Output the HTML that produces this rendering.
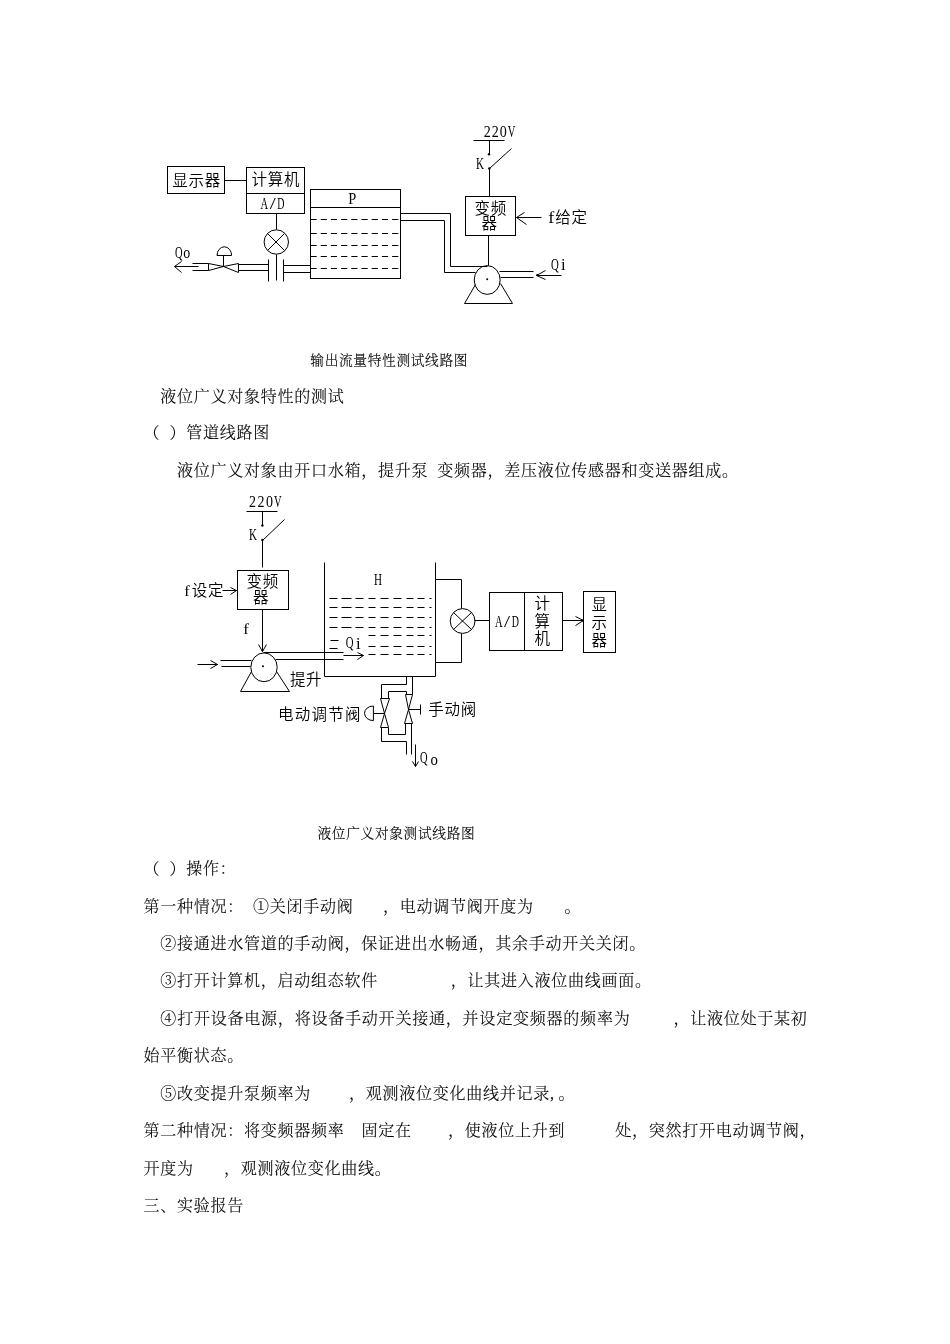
<!DOCTYPE html>
<html lang="zh-CN">
<head>
<meta charset="utf-8">
<title>液位广义对象特性的测试</title>
<style>
html,body{margin:0;padding:0;background:#fff;}
body{width:950px;height:1344px;position:relative;overflow:hidden;font-family:"Liberation Serif","Noto Serif CJK SC",serif;color:#000;}
.t{position:absolute;white-space:nowrap;line-height:24px;font-weight:300;word-spacing:4.2px;-webkit-text-stroke:0.12px #000;}
svg{position:absolute;left:0;top:0;transform:translateZ(0);}
svg text{font-family:"Liberation Serif","Noto Sans CJK SC",sans-serif;font-weight:350;fill:#000;}
</style>
</head>
<body>
<svg width="950" height="1344" viewBox="0 0 950 1344" fill="none" stroke="#000" stroke-width="1" stroke-linecap="butt" stroke-linejoin="miter">
<rect x="167.5" y="166.5" width="57.00" height="27.00"/>
<text x="172.3" y="186.3" font-size="15.5" stroke="none" letter-spacing="0.7">显示器</text>
<line x1="224.5" y1="180.5" x2="246.5" y2="180.5" />
<rect x="246.5" y="167.5" width="58.00" height="46.00"/>
<line x1="246.5" y1="193.5" x2="304.5" y2="193.5" />
<text x="251.6" y="185.2" font-size="15.5" stroke="none" letter-spacing="0.7">计算机</text>
<text x="260.55" y="209.3" font-size="16" stroke="none" textLength="7.6" lengthAdjust="spacingAndGlyphs" class="lat">A</text>
<text x="269.65" y="209.3" font-size="16" stroke="none" textLength="6.0" lengthAdjust="spacingAndGlyphs" class="lat">/</text>
<text x="277.35" y="209.3" font-size="16" stroke="none" textLength="7.2" lengthAdjust="spacingAndGlyphs" class="lat">D</text>
<line x1="276.5" y1="213.5" x2="276.5" y2="229.5" />
<circle cx="276.3" cy="242" r="12.2" />
<line x1="267.5" y1="233.5" x2="284.5" y2="250.5" />
<line x1="284.5" y1="233.5" x2="267.5" y2="250.5" />
<line x1="276.5" y1="254.5" x2="276.5" y2="280.5" />
<line x1="268.5" y1="259.5" x2="268.5" y2="281.5" />
<line x1="283.5" y1="259.5" x2="283.5" y2="281.5" />
<line x1="283.5" y1="265.5" x2="310.5" y2="265.5" />
<line x1="283.5" y1="272.5" x2="310.5" y2="272.5" />
<line x1="238.5" y1="264.5" x2="268.5" y2="264.5" />
<line x1="238.5" y1="270.5" x2="268.5" y2="270.5" />
<polygon points="208.5,263.5 208.5,270.5 223.5,266.5" />
<polygon points="238.5,263.5 238.5,272.5 223.5,266.5" />
<line x1="223.5" y1="266.5" x2="223.5" y2="255.5" />
<path d="M217,255.5 A7.3,8.7 0 0 1 231.6,255.5 Z" />
<line x1="192.5" y1="263.5" x2="208.5" y2="263.5" />
<line x1="192.5" y1="270.5" x2="208.5" y2="270.5" />
<line x1="174.5" y1="266.5" x2="198.5" y2="266.5" />
<polyline points="181.5,261.5 174.5,266.5 181.5,272.5" />
<text x="175.0" y="257.6" font-size="16" stroke="none" textLength="7.6" lengthAdjust="spacingAndGlyphs" class="lat">Q</text>
<text x="183.3" y="257.6" font-size="16" stroke="none" textLength="7.0" lengthAdjust="spacingAndGlyphs" class="lat">o</text>
<rect x="310.5" y="189.5" width="90.00" height="89.00"/>
<line x1="310.5" y1="207.5" x2="400.5" y2="207.5" />
<text x="348.3" y="204.3" font-size="16" stroke="none" textLength="8" lengthAdjust="spacingAndGlyphs" class="lat">P</text>
<line x1="310.5" y1="219.5" x2="399.5" y2="219.5" stroke-dasharray="6.2 4"/>
<line x1="310.5" y1="233.5" x2="399.5" y2="233.5" stroke-dasharray="6.2 4"/>
<line x1="310.5" y1="245.5" x2="399.5" y2="245.5" stroke-dasharray="6.2 4"/>
<line x1="310.5" y1="256.5" x2="399.5" y2="256.5" stroke-dasharray="6.2 4"/>
<line x1="310.5" y1="268.5" x2="399.5" y2="268.5" stroke-dasharray="6.2 4"/>
<polyline points="400.5,213.5 450.5,213.5 450.5,266.5 487.5,266.5" />
<polyline points="400.5,220.5 444.5,220.5 444.5,272.5 475.5,272.5" />
<ellipse cx="487.2" cy="280" rx="13" ry="14.4"/>
<circle cx="487.2" cy="279.2" r="1.0" fill="#000" stroke="none"/>
<polyline points="475.5,284.5 464.5,303.5 512.5,303.5 500.5,283.5" />
<line x1="499.5" y1="271.5" x2="533.5" y2="271.5" />
<line x1="500.5" y1="277.5" x2="533.5" y2="277.5" />
<line x1="536.5" y1="275.5" x2="561.5" y2="275.5" />
<polyline points="545.5,270.5 536.5,275.5 545.5,279.5" />
<circle cx="537.2" cy="275" r="1.0" fill="#000" stroke="none"/>
<text x="551" y="270.2" font-size="16" stroke="none" textLength="7.8" lengthAdjust="spacingAndGlyphs" class="lat">Q</text>
<text x="561" y="270.2" font-size="16" stroke="none" textLength="4.6" lengthAdjust="spacingAndGlyphs" class="lat">i</text>
<rect x="465.5" y="196.5" width="50.00" height="39.00"/>
<text x="474.6" y="214.2" font-size="15.5" stroke="none" letter-spacing="0.7">变频</text>
<text x="481.4" y="229.2" font-size="15.5" stroke="none" >器</text>
<line x1="488.5" y1="235.5" x2="488.5" y2="265.5" />
<line x1="489.5" y1="196.5" x2="489.5" y2="168.5" />
<circle cx="489.3" cy="168.4" r="1.2" fill="#000" stroke="none"/>
<circle cx="489.0" cy="154.2" r="1.2" fill="#000" stroke="none"/>
<line x1="489.5" y1="168.5" x2="511.5" y2="148.5" />
<line x1="489.5" y1="154.5" x2="489.5" y2="140.5" />
<line x1="473.5" y1="140.5" x2="504.5" y2="140.5" />
<text x="483.65" y="137.2" font-size="16" stroke="none" textLength="7.0" lengthAdjust="spacingAndGlyphs" class="lat">2</text>
<text x="491.75" y="137.2" font-size="16" stroke="none" textLength="7.0" lengthAdjust="spacingAndGlyphs" class="lat">2</text>
<text x="499.85" y="137.2" font-size="16" stroke="none" textLength="7.0" lengthAdjust="spacingAndGlyphs" class="lat">0</text>
<text x="507.65" y="137.2" font-size="16" stroke="none" textLength="7.6" lengthAdjust="spacingAndGlyphs" class="lat">V</text>
<text x="476" y="169.2" font-size="16" stroke="none" textLength="8" lengthAdjust="spacingAndGlyphs" class="lat">K</text>
<line x1="516.5" y1="217.5" x2="541.5" y2="217.5" />
<polyline points="524.5,212.5 516.5,217.5 526.5,224.5" />
<text x="548.2" y="222.5" font-size="16" stroke="none" textLength="6" lengthAdjust="spacingAndGlyphs" class="lat">f</text>
<text x="555.3" y="222.5" font-size="15.5" stroke="none" letter-spacing="0.7">给定</text>
<text x="249.1" y="507.2" font-size="16" stroke="none" textLength="7.0" lengthAdjust="spacingAndGlyphs" class="lat">2</text>
<text x="257.5" y="507.2" font-size="16" stroke="none" textLength="7.0" lengthAdjust="spacingAndGlyphs" class="lat">2</text>
<text x="265.9" y="507.2" font-size="16" stroke="none" textLength="7.0" lengthAdjust="spacingAndGlyphs" class="lat">0</text>
<text x="274.0" y="507.2" font-size="16" stroke="none" textLength="7.6" lengthAdjust="spacingAndGlyphs" class="lat">V</text>
<line x1="246.5" y1="511.5" x2="277.5" y2="511.5" />
<line x1="262.5" y1="511.5" x2="262.5" y2="525.5" />
<circle cx="262.4" cy="525.5" r="1.2" fill="#000" stroke="none"/>
<circle cx="262.4" cy="540" r="1.2" fill="#000" stroke="none"/>
<line x1="262.5" y1="540.5" x2="284.5" y2="519.5" />
<text x="249" y="540.2" font-size="16" stroke="none" textLength="8" lengthAdjust="spacingAndGlyphs" class="lat">K</text>
<line x1="262.5" y1="540.5" x2="262.5" y2="567.5" />
<rect x="237.5" y="570.5" width="51.00" height="39.00"/>
<text x="246.6" y="586.8" font-size="15.5" stroke="none" letter-spacing="0.7">变频</text>
<text x="252.9" y="603.0" font-size="15.5" stroke="none" >器</text>
<text x="184.3" y="595.5" font-size="15" stroke="none" textLength="5.4" lengthAdjust="spacingAndGlyphs" class="lat">f</text>
<text x="191.7" y="595.8" font-size="15.5" stroke="none" letter-spacing="0.7">设定</text>
<line x1="222.5" y1="590.5" x2="236.5" y2="590.5" />
<polyline points="230.5,587.5 236.5,590.5 230.5,594.5" />
<text x="243.2" y="633.8" font-size="14.5" stroke="none" textLength="5.6" lengthAdjust="spacingAndGlyphs" class="lat">f</text>
<line x1="262.5" y1="609.5" x2="262.5" y2="651.5" />
<polyline points="258.5,644.5 262.5,651.5 266.5,644.5" />
<circle cx="262.4" cy="650.6" r="0.9" fill="#000" stroke="none"/>
<ellipse cx="264" cy="667.3" rx="13.2" ry="14.4"/>
<circle cx="263" cy="666.2" r="1.0" fill="#000" stroke="none"/>
<polyline points="251.5,671.5 240.5,691.5 289.5,691.5 276.5,671.5" />
<line x1="220.5" y1="660.5" x2="251.5" y2="660.5" />
<line x1="221.5" y1="666.5" x2="250.5" y2="666.5" />
<line x1="197.5" y1="664.5" x2="217.5" y2="664.5" />
<polyline points="210.5,660.5 217.5,664.5 210.5,668.5" />
<line x1="263.5" y1="652.5" x2="343.5" y2="652.5" />
<line x1="275.5" y1="659.5" x2="343.5" y2="659.5" />
<line x1="343.5" y1="655.5" x2="363.5" y2="655.5" />
<polyline points="357.5,652.5 363.5,655.5 357.5,659.5" />
<polyline points="324.5,562.5 324.5,676.5 435.5,676.5 435.5,562.5" />
<text x="374" y="584.5" font-size="16" stroke="none" textLength="8" lengthAdjust="spacingAndGlyphs" class="lat">H</text>
<line x1="329.5" y1="598.5" x2="337.5" y2="598.5" />
<line x1="341.5" y1="598.5" x2="351.5" y2="598.5" />
<line x1="355.5" y1="598.5" x2="363.5" y2="598.5" />
<line x1="368.5" y1="598.5" x2="375.5" y2="598.5" />
<line x1="380.5" y1="598.5" x2="388.5" y2="598.5" />
<line x1="393.5" y1="598.5" x2="401.5" y2="598.5" />
<line x1="406.5" y1="598.5" x2="413.5" y2="598.5" />
<line x1="417.5" y1="598.5" x2="424.5" y2="598.5" />
<line x1="429.5" y1="598.5" x2="431.5" y2="598.5" />
<line x1="329.5" y1="607.5" x2="337.5" y2="607.5" />
<line x1="341.5" y1="607.5" x2="351.5" y2="607.5" />
<line x1="355.5" y1="607.5" x2="363.5" y2="607.5" />
<line x1="368.5" y1="607.5" x2="375.5" y2="607.5" />
<line x1="380.5" y1="607.5" x2="388.5" y2="607.5" />
<line x1="393.5" y1="607.5" x2="401.5" y2="607.5" />
<line x1="406.5" y1="607.5" x2="413.5" y2="607.5" />
<line x1="417.5" y1="607.5" x2="424.5" y2="607.5" />
<line x1="429.5" y1="607.5" x2="431.5" y2="607.5" />
<line x1="329.5" y1="617.5" x2="337.5" y2="617.5" />
<line x1="341.5" y1="617.5" x2="351.5" y2="617.5" />
<line x1="355.5" y1="617.5" x2="363.5" y2="617.5" />
<line x1="368.5" y1="617.5" x2="375.5" y2="617.5" />
<line x1="380.5" y1="617.5" x2="388.5" y2="617.5" />
<line x1="393.5" y1="617.5" x2="401.5" y2="617.5" />
<line x1="406.5" y1="617.5" x2="413.5" y2="617.5" />
<line x1="417.5" y1="617.5" x2="424.5" y2="617.5" />
<line x1="429.5" y1="617.5" x2="431.5" y2="617.5" />
<line x1="329.5" y1="627.5" x2="337.5" y2="627.5" />
<line x1="341.5" y1="627.5" x2="351.5" y2="627.5" />
<line x1="355.5" y1="627.5" x2="363.5" y2="627.5" />
<line x1="368.5" y1="627.5" x2="375.5" y2="627.5" />
<line x1="380.5" y1="627.5" x2="388.5" y2="627.5" />
<line x1="393.5" y1="627.5" x2="401.5" y2="627.5" />
<line x1="406.5" y1="627.5" x2="413.5" y2="627.5" />
<line x1="417.5" y1="627.5" x2="424.5" y2="627.5" />
<line x1="429.5" y1="627.5" x2="431.5" y2="627.5" />
<line x1="368.5" y1="635.5" x2="375.5" y2="635.5" />
<line x1="380.5" y1="635.5" x2="388.5" y2="635.5" />
<line x1="393.5" y1="635.5" x2="401.5" y2="635.5" />
<line x1="406.5" y1="635.5" x2="413.5" y2="635.5" />
<line x1="417.5" y1="635.5" x2="424.5" y2="635.5" />
<line x1="429.5" y1="635.5" x2="431.5" y2="635.5" />
<line x1="368.5" y1="646.5" x2="375.5" y2="646.5" />
<line x1="380.5" y1="646.5" x2="388.5" y2="646.5" />
<line x1="393.5" y1="646.5" x2="401.5" y2="646.5" />
<line x1="406.5" y1="646.5" x2="413.5" y2="646.5" />
<line x1="417.5" y1="646.5" x2="424.5" y2="646.5" />
<line x1="429.5" y1="646.5" x2="431.5" y2="646.5" />
<line x1="368.5" y1="654.5" x2="375.5" y2="654.5" />
<line x1="380.5" y1="654.5" x2="388.5" y2="654.5" />
<line x1="393.5" y1="654.5" x2="401.5" y2="654.5" />
<line x1="406.5" y1="654.5" x2="413.5" y2="654.5" />
<line x1="417.5" y1="654.5" x2="424.5" y2="654.5" />
<line x1="429.5" y1="654.5" x2="431.5" y2="654.5" />
<line x1="330.5" y1="640.5" x2="338.5" y2="640.5" />
<line x1="329.5" y1="648.5" x2="337.5" y2="648.5" />
<text x="345.8" y="648.4" font-size="16" stroke="none" textLength="7.8" lengthAdjust="spacingAndGlyphs" class="lat">Q</text>
<text x="356" y="649.4" font-size="16" stroke="none" textLength="4.6" lengthAdjust="spacingAndGlyphs" class="lat">i</text>
<text x="289.9" y="685.3" font-size="15.5" stroke="none" letter-spacing="0.7">提升</text>
<polyline points="435.5,579.5 461.5,579.5 461.5,608.5" />
<circle cx="462.6" cy="621" r="12.4" />
<line x1="453.5" y1="612.5" x2="471.5" y2="629.5" />
<line x1="471.5" y1="612.5" x2="453.5" y2="629.5" />
<polyline points="461.5,633.5 461.5,662.5 435.5,662.5" />
<line x1="474.5" y1="620.5" x2="489.5" y2="620.5" />
<rect x="489.5" y="592.5" width="73.00" height="58.00"/>
<line x1="524.5" y1="592.5" x2="524.5" y2="650.5" />
<text x="495.1" y="627.4" font-size="16" stroke="none" textLength="7.6" lengthAdjust="spacingAndGlyphs" class="lat">A</text>
<text x="504.1" y="627.4" font-size="16" stroke="none" textLength="6.0" lengthAdjust="spacingAndGlyphs" class="lat">/</text>
<text x="511.7" y="627.4" font-size="16" stroke="none" textLength="7.2" lengthAdjust="spacingAndGlyphs" class="lat">D</text>
<text x="534.6" y="609.0" font-size="15.5" stroke="none" >计</text>
<text x="534.6" y="626.6" font-size="15.5" stroke="none" >算</text>
<text x="534.6" y="644.2" font-size="15.5" stroke="none" >机</text>
<line x1="562.5" y1="620.5" x2="583.5" y2="620.5" />
<polyline points="575.5,616.5 583.5,620.5 575.5,625.5" />
<circle cx="582.6" cy="620.6" r="1.0" fill="#000" stroke="none"/>
<rect x="583.5" y="591.5" width="32.00" height="61.00"/>
<text x="591.6" y="610" font-size="15.5" stroke="none" >显</text>
<text x="591.6" y="628" font-size="15.5" stroke="none" >示</text>
<text x="591.6" y="646" font-size="15.5" stroke="none" >器</text>
<polyline points="406.5,676.5 406.5,684.5 381.5,684.5 381.5,698.5" />
<line x1="412.5" y1="676.5" x2="412.5" y2="694.5" />
<polyline points="388.5,698.5 388.5,691.5 406.5,691.5 406.5,694.5" />
<polygon points="380.5,698.5 389.5,698.5 384.5,713.5" />
<polygon points="380.5,727.5 388.5,727.5 384.5,713.5" />
<line x1="373.5" y1="713.5" x2="384.5" y2="713.5" />
<path d="M373.4,706 A8.9,7.3 0 0 0 373.4,720.6 Z" />
<polygon points="405.5,694.5 412.5,694.5 408.5,709.5" />
<polygon points="404.5,723.5 412.5,723.5 408.5,709.5" />
<line x1="408.5" y1="709.5" x2="420.5" y2="709.5" />
<line x1="420.5" y1="704.5" x2="420.5" y2="714.5" />
<polyline points="381.5,727.5 381.5,741.5 406.5,741.5 406.5,754.5" />
<polyline points="388.5,727.5 388.5,734.5 405.5,734.5 405.5,723.5" />
<line x1="411.5" y1="723.5" x2="411.5" y2="754.5" />
<line x1="415.5" y1="744.5" x2="415.5" y2="766.5" />
<polyline points="412.5,761.5 415.5,766.5 418.5,761.5" />
<text x="420" y="763.3" font-size="16" stroke="none" textLength="7.6" lengthAdjust="spacingAndGlyphs" class="lat">Q</text>
<text x="430.6" y="764.6" font-size="16" stroke="none" textLength="7.4" lengthAdjust="spacingAndGlyphs" class="lat">o</text>
<text x="428.3" y="715.2" font-size="15.5" stroke="none" letter-spacing="0.7">手动阀</text>
<text x="277.9" y="719.8" font-size="15.5" stroke="none" letter-spacing="1.3">电动调节阀</text>
</svg>
<div class="t" style="left:310.30px;top:348.90px;font-size:13.71px;letter-spacing:0.65px;">输出流量特性测试线路图</div>
<div class="t" style="left:160.35px;top:385.00px;font-size:16.00px;letter-spacing:0.75px;">液位广义对象特性的测试</div>
<div class="t" style="left:143.60px;top:421.00px;font-size:16.00px;letter-spacing:0.75px;">（</div>
<div class="t" style="left:169.50px;top:421.00px;font-size:16.00px;letter-spacing:0.75px;">）管道线路图</div>
<div class="t" style="left:177.10px;top:459.00px;font-size:16.00px;letter-spacing:0.75px;">液位广义对象由开口水箱，提升泵 变频器，差压液位传感器和变送器组成。</div>
<div class="t" style="left:317.50px;top:821.70px;font-size:13.71px;letter-spacing:0.65px;">液位广义对象测试线路图</div>
<div class="t" style="left:143.60px;top:857.00px;font-size:16.00px;letter-spacing:0.75px;">（</div>
<div class="t" style="left:169.50px;top:857.00px;font-size:16.00px;letter-spacing:0.75px;">）操作：</div>
<div class="t" style="left:143.60px;top:895.00px;font-size:16.00px;letter-spacing:0.75px;">第一种情况： ①关闭手动阀</div>
<div class="t" style="left:383.00px;top:895.00px;font-size:16.00px;letter-spacing:0.75px;">，电动调节阀开度为</div>
<div class="t" style="left:564.50px;top:895.00px;font-size:16.00px;letter-spacing:0.75px;">。</div>
<div class="t" style="left:160.35px;top:932.00px;font-size:16.00px;letter-spacing:0.75px;">②接通进水管道的手动阀，保证进出水畅通，其余手动开关关闭。</div>
<div class="t" style="left:160.35px;top:969.00px;font-size:16.00px;letter-spacing:0.75px;">③打开计算机，启动组态软件</div>
<div class="t" style="left:450.75px;top:969.00px;font-size:16.00px;letter-spacing:0.75px;">，让其进入液位曲线画面。</div>
<div class="t" style="left:160.35px;top:1007.00px;font-size:16.00px;letter-spacing:0.79px;">④打开设备电源，将设备手动开关接通，并设定变频器的频率为</div>
<div class="t" style="left:673.40px;top:1007.00px;font-size:16.00px;letter-spacing:0.75px;">，让液位处于某初</div>
<div class="t" style="left:143.60px;top:1044.00px;font-size:16.00px;letter-spacing:0.75px;">始平衡状态。</div>
<div class="t" style="left:160.35px;top:1082.00px;font-size:16.00px;letter-spacing:0.75px;">⑤改变提升泵频率为</div>
<div class="t" style="left:348.90px;top:1082.00px;font-size:16.00px;letter-spacing:0.75px;">，观测液位变化曲线并记录<span style="display:inline-block;width:8.6px">,</span>。</div>
<div class="t" style="left:143.60px;top:1119.00px;font-size:16.00px;letter-spacing:0.75px;">第二种情况：将变频器频率</div>
<div class="t" style="left:361.50px;top:1119.00px;font-size:16.00px;letter-spacing:0.75px;">固定在</div>
<div class="t" style="left:448.00px;top:1119.00px;font-size:16.00px;letter-spacing:0.75px;">，使液位上升到</div>
<div class="t" style="left:615.20px;top:1119.00px;font-size:16.00px;letter-spacing:0.75px;">处，突然打开电动调节阀，</div>
<div class="t" style="left:143.60px;top:1157.00px;font-size:16.00px;letter-spacing:0.75px;">开度为</div>
<div class="t" style="left:223.90px;top:1157.00px;font-size:16.00px;letter-spacing:0.75px;">，观测液位变化曲线。</div>
<div class="t" style="left:143.60px;top:1194.00px;font-size:16.00px;letter-spacing:0.75px;">三、实验报告</div>
</body>
</html>
